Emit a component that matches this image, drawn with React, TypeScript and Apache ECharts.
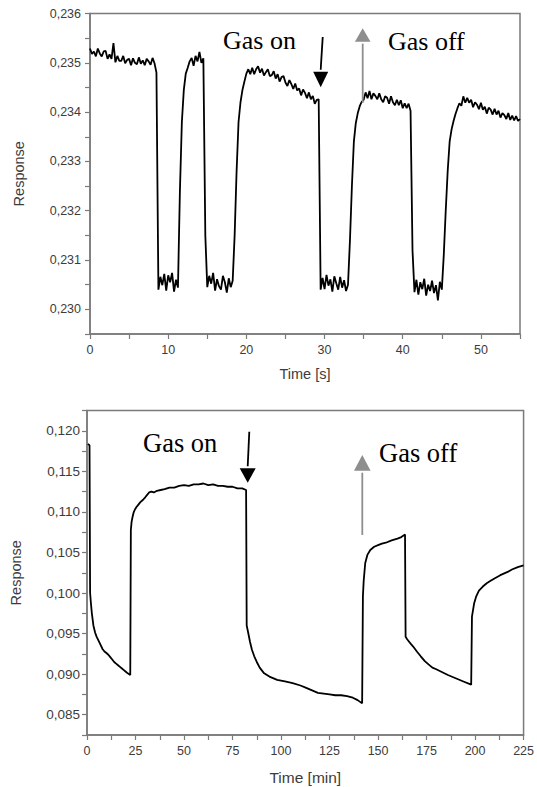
import React, { useEffect, useRef } from "react";
import * as echarts from "echarts";

// ---------- Top panel: response vs time [s], sampled every 0.25 s ----------
const TOP_STEP = 0.25;
const topResponse = [
  0.23529, 0.23518, 0.23523, 0.23513, 0.23529, 0.23519, 0.23513, 0.23523,
  0.23524, 0.23508, 0.23517, 0.23508, 0.2354, 0.23501, 0.23514, 0.23504,
  0.23504, 0.23514, 0.23499, 0.23506, 0.23508, 0.23495, 0.23509, 0.235,
  0.23497, 0.23511, 0.23498, 0.23505, 0.23495, 0.23508, 0.23503, 0.23496,
  0.2351, 0.23499, 0.2348, 0.2304, 0.23066, 0.23049, 0.23072, 0.23038,
  0.23069, 0.23055, 0.23074, 0.23036, 0.2306, 0.23044, 0.2324, 0.2338,
  0.23445, 0.23478, 0.2349, 0.23503, 0.2351, 0.23494, 0.23514, 0.23503,
  0.23522, 0.235, 0.23509, 0.2315, 0.23045, 0.23068, 0.23052, 0.23074,
  0.23038, 0.23061, 0.23047, 0.2304, 0.23068, 0.23055, 0.23034, 0.23063,
  0.23045, 0.23058, 0.2315, 0.2328, 0.2338, 0.2342, 0.23445, 0.23462,
  0.23478, 0.23487, 0.23477, 0.2349, 0.23477, 0.23487, 0.23493, 0.2348,
  0.23488, 0.23474, 0.23481, 0.23487, 0.23473, 0.23475, 0.23483, 0.23468,
  0.23477, 0.23462, 0.23471, 0.23473, 0.2346, 0.23453, 0.23465, 0.23457,
  0.23447, 0.23458, 0.23444, 0.23448, 0.23434, 0.23446, 0.23439, 0.23428,
  0.2344, 0.23426, 0.23433, 0.23417, 0.23425, 0.23426, 0.2304, 0.23064,
  0.23041, 0.2307, 0.23048, 0.23061, 0.23036, 0.23067, 0.23053, 0.2304,
  0.23066, 0.23044, 0.23059, 0.23037, 0.2305, 0.2314, 0.2325, 0.2334,
  0.23378, 0.23398, 0.23412, 0.23421, 0.23425, 0.2344, 0.23428, 0.23443,
  0.23426, 0.23438, 0.23433, 0.23426, 0.23438, 0.23426, 0.2342, 0.23432,
  0.23429, 0.23417, 0.23432, 0.2342, 0.23414, 0.23425, 0.23414, 0.23424,
  0.23408, 0.23418, 0.23408, 0.23417, 0.23403, 0.2312, 0.23035, 0.2306,
  0.2303, 0.23055, 0.23041, 0.23062, 0.23028, 0.2305, 0.23037, 0.23058,
  0.23033, 0.23049, 0.23018, 0.23056, 0.2304, 0.2311, 0.232, 0.2328,
  0.2334, 0.23365, 0.23382, 0.23396, 0.23408, 0.23418, 0.23413, 0.23432,
  0.23419, 0.23429, 0.23419, 0.23425, 0.2341, 0.2342, 0.23415, 0.23406,
  0.23419, 0.23405, 0.23411, 0.23397, 0.23409, 0.23405, 0.23395, 0.23407,
  0.23395, 0.23403, 0.23389, 0.23398, 0.23394, 0.23386, 0.23398, 0.23384,
  0.23393, 0.23383, 0.23392, 0.23382, 0.23386,
];

// ---------- Bottom panel: response vs time [min] ----------
const bottomTime = [
  0.5, 1.3, 1.6, 2, 2.5, 3.3, 4.2, 5, 6, 7, 8, 9, 10, 11, 12, 13, 14, 15, 16, 17, 18, 19, 20, 21, 22.3,
  22.6, 23, 23.5, 24, 24.7, 25.5, 26.5, 27.5, 28.9, 30, 31, 32, 33.2, 34.5, 36, 38, 40, 42.5, 45, 47.5,
  50, 52.5, 55, 57.5, 60, 62.5, 65, 67.5, 70, 72.5, 75, 77.5, 80, 82,
  82.3, 83, 84, 85, 86.2, 87.5, 89, 91.3, 94, 98, 102, 106, 110, 113, 116, 119, 122, 125, 128, 131,
  134, 137, 139.5, 141.8,
  142.2, 142.6, 143.4, 144.5, 146, 148, 150, 152, 154, 157, 160, 162, 163.9,
  164.2, 165, 166, 167, 168.1, 170, 172, 174.1, 176, 178, 180, 182.6, 186, 190, 194, 198,
  198.4, 199.5, 200.6, 202, 204, 206, 208, 210, 213, 216.8, 219, 222, 225,
];
const bottomResponse = [
  0.1184, 0.1182, 0.1, 0.0988, 0.0975, 0.096, 0.0951, 0.0946, 0.0941, 0.0936, 0.0931, 0.0928, 0.0926,
  0.0924, 0.0921, 0.0918, 0.0915, 0.0913, 0.0911, 0.0909, 0.0907, 0.0905, 0.0903, 0.0901, 0.0899,
  0.1078, 0.1088, 0.1094, 0.1099, 0.1103, 0.1106, 0.1109, 0.1112, 0.1115, 0.1118, 0.1121, 0.1124,
  0.1125, 0.1124, 0.1126, 0.1127, 0.1128, 0.113, 0.113, 0.1132,
  0.1133, 0.1132, 0.1134, 0.1134, 0.1135, 0.1133, 0.1134, 0.1132, 0.1132, 0.1131, 0.1131, 0.1129, 0.1129, 0.1127,
  0.096, 0.0952, 0.094, 0.093, 0.0922, 0.0915, 0.0908, 0.0901, 0.0897, 0.0893, 0.0891, 0.0889, 0.0886,
  0.0883, 0.088, 0.0877, 0.0876, 0.0875, 0.0874, 0.0874,
  0.0873, 0.0871, 0.0868, 0.0864,
  0.0996, 0.1015, 0.1037, 0.1047, 0.1053, 0.1057, 0.1059, 0.1061, 0.1062, 0.1065, 0.1067, 0.1069, 0.1072,
  0.0946, 0.0943, 0.094, 0.0937, 0.0934, 0.0928, 0.0922, 0.0916, 0.0912, 0.0908, 0.0906, 0.0903, 0.0899,
  0.0895, 0.0891, 0.0887,
  0.0971, 0.0987, 0.0996, 0.1003, 0.1008, 0.1012, 0.1015, 0.1018, 0.1022, 0.1026, 0.1029, 0.1032, 0.1034,
];

const LABEL_FONT = "'Liberation Sans', Arial, sans-serif";
const SERIF = "'Liberation Serif', 'Times New Roman', serif";
const AXIS_GRAY = "#7a7a7a";
const LABEL_COLOR = "#3c3c3c";

function arrow(x1: number, y1: number, tipX: number, tipY: number, headBaseY: number, halfW: number, color: string) {
  return [
    {
      type: "line",
      shape: { x1, y1, x2: tipX, y2: headBaseY + (tipY < y1 ? 2 : -2) },
      style: { stroke: color, lineWidth: 1.8 },
      z: 100,
    },
    {
      type: "polygon",
      shape: { points: [[tipX, tipY], [tipX - halfW, headBaseY], [tipX + halfW, headBaseY]] },
      style: { fill: color },
      z: 100,
    },
  ];
}

export default function App() {
  const ref = useRef<HTMLDivElement>(null);
  useEffect(() => {
    if (!ref.current) return;
    const chart = echarts.init(ref.current, null, { renderer: "svg" });

    const topData = topResponse.map((v, i) => [i * TOP_STEP, v]);
    const bottomData = bottomTime.map((t, i) => [t, bottomResponse[i]]);

    const axisCommon = {
      axisLine: { show: true, onZero: false, lineStyle: { color: AXIS_GRAY, width: 1.5 } },
      axisTick: { show: true, inside: false, length: 5, lineStyle: { color: AXIS_GRAY, width: 1.2 } },
      splitLine: { show: false },
    };

    chart.setOption({
      animation: false,
      backgroundColor: "#ffffff",
      grid: [
        { left: 90, top: 13.5, width: 430, height: 320.5, show: true, borderColor: AXIS_GRAY, borderWidth: 1.5, backgroundColor: "transparent" },
        { left: 87, top: 410.5, width: 439, height: 324.5, show: true, borderColor: AXIS_GRAY, borderWidth: 1.5, backgroundColor: "transparent" },
      ],
      xAxis: [
        {
          gridIndex: 0,
          type: "value",
          min: 0,
          max: 55,
          interval: 5,
          ...axisCommon,
          axisLabel: {
            margin: 9,
            color: LABEL_COLOR,
            fontFamily: LABEL_FONT,
            fontSize: 12.5,
            formatter: (v: number) => (Math.round(v / 5) % 2 === 0 && v < 55 ? String(Math.round(v)) : ""),
          },
          name: "Time [s]",
          nameLocation: "middle",
          nameGap: 32,
          nameTextStyle: { color: LABEL_COLOR, fontFamily: LABEL_FONT, fontSize: 14.5 },
        },
        {
          gridIndex: 1,
          type: "value",
          min: 0,
          max: 225,
          interval: 12.5,
          ...axisCommon,
          axisLabel: {
            margin: 9,
            color: LABEL_COLOR,
            fontFamily: LABEL_FONT,
            fontSize: 12.5,
            formatter: (v: number) => (Math.round(v / 12.5) % 2 === 0 ? String(Math.round(v)) : ""),
          },
          name: "Time [min]",
          nameLocation: "middle",
          nameGap: 34,
          nameTextStyle: { color: LABEL_COLOR, fontFamily: LABEL_FONT, fontSize: 15.5 },
        },
      ],
      yAxis: [
        {
          gridIndex: 0,
          type: "value",
          min: 0.2295,
          max: 0.236,
          interval: 0.0005,
          ...axisCommon,
          axisLabel: {
            margin: 9,
            color: LABEL_COLOR,
            fontFamily: LABEL_FONT,
            fontSize: 12.5,
            formatter: (v: number) =>
              Math.round(v * 2000) % 2 === 0 ? v.toFixed(3).replace(".", ",") : "",
          },
          name: "Response",
          nameLocation: "middle",
          nameGap: 64,
          nameTextStyle: { color: LABEL_COLOR, fontFamily: LABEL_FONT, fontSize: 14.5 },
        },
        {
          gridIndex: 1,
          type: "value",
          min: 0.0825,
          max: 0.1225,
          interval: 0.0025,
          ...axisCommon,
          axisLabel: {
            margin: 7,
            color: LABEL_COLOR,
            fontFamily: LABEL_FONT,
            fontSize: 13.5,
            formatter: (v: number) =>
              Math.round(v * 400) % 2 === 0 ? v.toFixed(3).replace(".", ",") : "",
          },
          name: "Response",
          nameLocation: "middle",
          nameGap: 64,
          nameTextStyle: { color: LABEL_COLOR, fontFamily: LABEL_FONT, fontSize: 14.5 },
        },
      ],
      series: [
        {
          type: "line",
          xAxisIndex: 0,
          yAxisIndex: 0,
          data: topData,
          showSymbol: false,
          symbol: "none",
          lineStyle: { color: "#000000", width: 1.8 },
          z: 5,
        },
        {
          type: "line",
          xAxisIndex: 1,
          yAxisIndex: 1,
          data: bottomData,
          showSymbol: false,
          symbol: "none",
          lineStyle: { color: "#000000", width: 1.8 },
          z: 5,
        },
      ],
      graphic: [
        { type: "text", style: { text: "Gas on", x: 223, y: 40.5, verticalAlign: "middle", font: `26px ${SERIF}`, fill: "#000" }, z: 100 },
        { type: "text", style: { text: "Gas off", x: 388, y: 41, verticalAlign: "middle", font: `26px ${SERIF}`, fill: "#000" }, z: 100 },
        ...arrow(322.7, 37, 320.7, 87.3, 71.7, 7.5, "#000000"),
        ...arrow(362.7, 103, 362.7, 28.3, 41.7, 7.8, "#8e8e8e"),
        { type: "text", style: { text: "Gas on", x: 143, y: 442.5, verticalAlign: "middle", font: `26.5px ${SERIF}`, fill: "#000" }, z: 100 },
        { type: "text", style: { text: "Gas off", x: 379, y: 452.5, verticalAlign: "middle", font: `26.5px ${SERIF}`, fill: "#000" }, z: 100 },
        ...arrow(249.3, 431.7, 247.7, 482.7, 468.3, 8, "#000000"),
        ...arrow(362.3, 535, 362.3, 455, 470.7, 8.3, "#8e8e8e"),
      ],
    });

    return () => chart.dispose();
  }, []);

  return (
    <div
      ref={ref}
      style={{ position: "fixed", left: 0, top: 0, width: 537, height: 787, background: "#fff" }}
    />
  );
}
